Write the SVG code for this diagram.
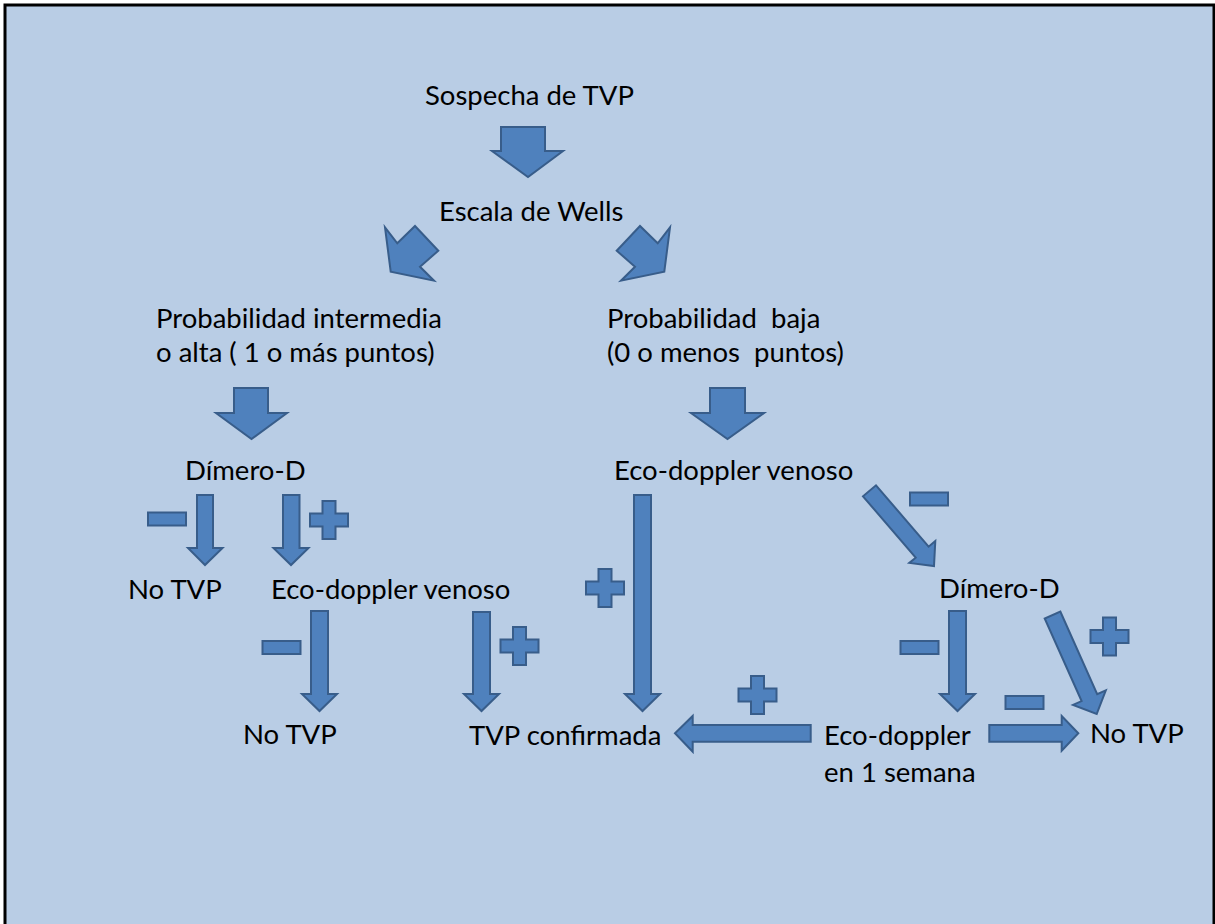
<svg xmlns="http://www.w3.org/2000/svg" xmlns:xlink="http://www.w3.org/1999/xlink" width="1215" height="924" viewBox="0 0 1215 924">
<style>
  .t { font-family: Lato, "Liberation Sans", sans-serif; font-size: 27.5px; fill: #000; white-space: pre; }
  .ar { fill: #4F81BD; stroke: #385D8A; stroke-width: 2; stroke-linejoin: miter; }
</style>
<defs>
  <path id="plus" d="M-6.5,-19 H6.5 V-6.5 H19 V6.5 H6.5 V19 H-6.5 V6.5 H-19 V-6.5 H-6.5 Z"/>
  <rect id="minus" x="-19" y="-6.5" width="38" height="13"/>
</defs>
<rect x="0" y="0" width="1215" height="924" fill="#FFFFFF"/>
<rect x="5" y="5" width="1209" height="940" fill="#B9CDE5" stroke="#000" stroke-width="3"/>

<g id="connectors">
  <polygon class="ar" points="501,127 545,127 545,151 563,151 528,177 492,151 501,151"/>
  <polygon class="ar" points="385,227.3 397.3,243.3 415,226 438.3,250.7 420,266.7 434,280.7 390.7,271.7"/>
  <polygon class="ar" points="670,227.3 657.7,243.3 640,226 616.7,250.7 635,266.7 621,280.7 664.3,271.7"/>
  <polygon class="ar" points="234,388 268,388 268,413 287,413 251.5,439 216,413 234,413"/>
  <polygon class="ar" points="710,388 745,388 745,413 764,413 727.5,439 691,413 710,413"/>
  <polygon class="ar" points="197,495 213,495 213,548 222.5,548 205,565 188,548 197,548"/>
  <polygon class="ar" points="283,495 299.5,495 299.5,548 308.5,548 291,565 273.5,548 283,548"/>
  <polygon class="ar" points="311,611 328,611 328,694 337,694 319.5,711 302,694 311,694"/>
  <polygon class="ar" points="473,612 490,612 490,694 499,694 481.5,711 464,694 473,694"/>
  <polygon class="ar" points="634,495 651,495 651,694 660,694 642.5,711 625,694 634,694"/>
  <polygon class="ar" points="949,611 966,611 966,694 975,694 957.5,711 940,694 949,694"/>
  <polygon class="ar" points="810.7,725 810.7,741.7 692.7,741.7 692.7,751.7 675,733.3 692.7,716 692.7,725"/>
  <polygon class="ar" points="989.3,725 1061.7,725 1061.7,716 1078.3,733.3 1061.7,750.7 1061.7,741.7 989.3,741.7"/>
  <polygon class="ar" points="876,485.3 928.6,546.7 935.3,541 934,566 909.3,562.9 915.7,557.7 863,496.3"/>
  <polygon class="ar" points="1060.3,611.5 1097.2,694.1 1105.8,690.3 1096.7,714 1073,704.9 1081.6,701.1 1044.7,618.5"/>
  <g id="signs" class="ar">
    <use xlink:href="#minus" x="167" y="519"/>
    <use xlink:href="#plus" x="329" y="520"/>
    <use xlink:href="#minus" x="281.5" y="647.5"/>
    <use xlink:href="#plus" x="519.5" y="646"/>
    <use xlink:href="#plus" x="605" y="588"/>
    <use xlink:href="#minus" x="929" y="499"/>
    <use xlink:href="#plus" x="757.5" y="695"/>
    <use xlink:href="#minus" x="919.5" y="647.5"/>
    <use xlink:href="#plus" x="1109.5" y="636.5"/>
    <use xlink:href="#minus" x="1024.5" y="702.5"/>
  </g>
</g>

<g id="n-sospecha"><text class="t" x="425" y="105">Sospecha de TVP</text></g>
<g id="n-wells"><text class="t" x="439" y="221">Escala de Wells</text></g>
<g id="n-prob-alta"><text class="t" x="156" y="328">Probabilidad intermedia</text><text class="t" x="156" y="362">o alta ( 1 o más puntos)</text></g>
<g id="n-prob-baja"><text class="t" x="607" y="328">Probabilidad  baja</text><text class="t" x="607" y="362">(0 o menos  puntos)</text></g>
<g id="n-dimero-1"><text class="t" x="185" y="480">Dímero-D</text></g>
<g id="n-eco-1"><text class="t" x="614" y="480">Eco-doppler venoso</text></g>
<g id="n-notvp-1"><text class="t" x="128" y="599">No TVP</text></g>
<g id="n-eco-2"><text class="t" x="271" y="599">Eco-doppler venoso</text></g>
<g id="n-dimero-2"><text class="t" x="939" y="598">Dímero-D</text></g>
<g id="n-notvp-2"><text class="t" x="243" y="744">No TVP</text></g>
<g id="n-confirmada"><text class="t" x="469" y="745">TVP confirmada</text></g>
<g id="n-eco-semana"><text class="t" x="824" y="745">Eco-doppler</text><text class="t" x="824" y="782">en 1 semana</text></g>
<g id="n-notvp-3"><text class="t" x="1090" y="743">No TVP</text></g>
</svg>
